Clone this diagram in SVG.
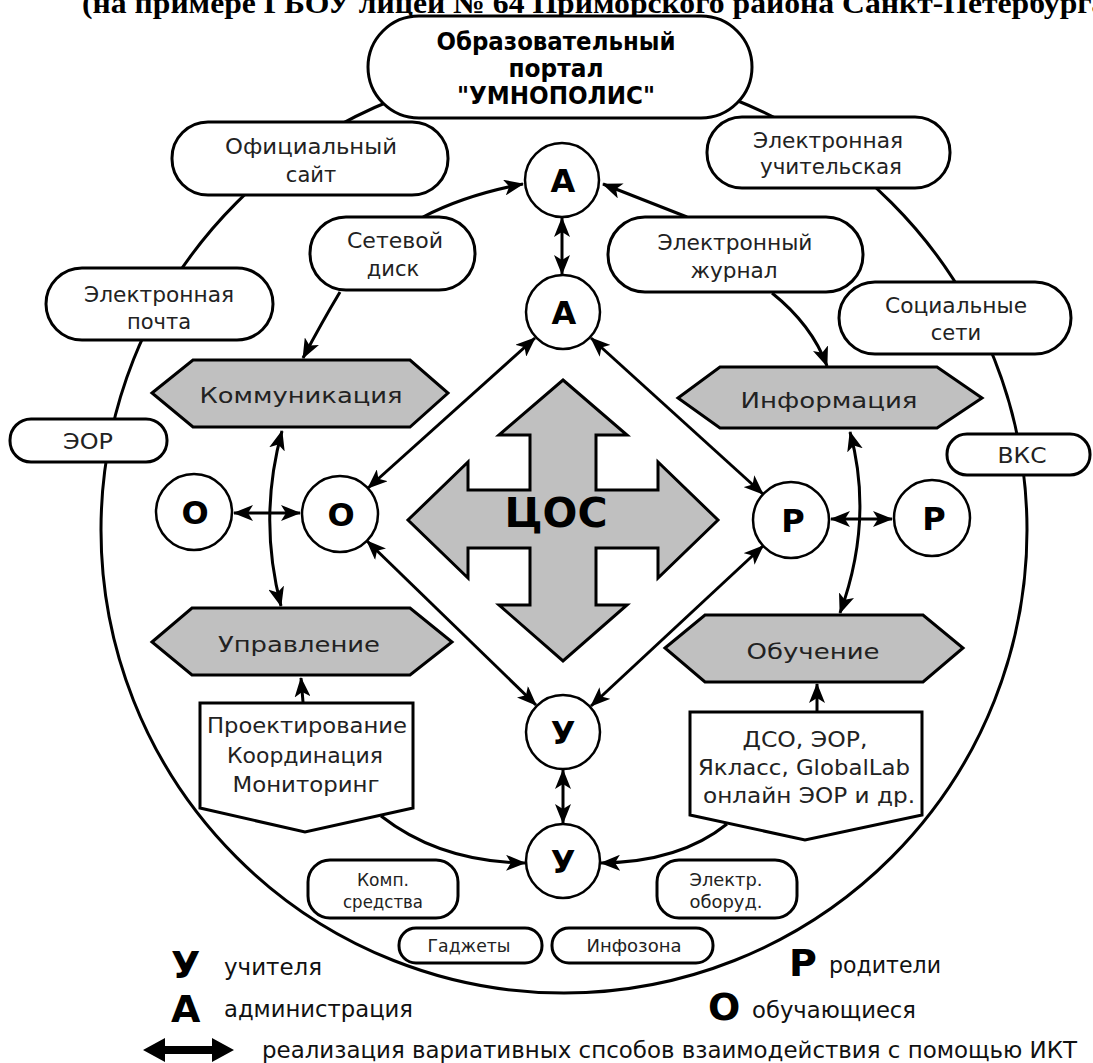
<svg xmlns="http://www.w3.org/2000/svg" width="1093" height="1063" viewBox="0 0 1093 1063">
<defs>
<style>
.box{fill:#fff;stroke:#000;stroke-width:3}
.hex{fill:#c0c0c0;stroke:#000;stroke-width:3}
.circ{fill:#fff;stroke:#000;stroke-width:2.5}
.lbl{font-family:"DejaVu Sans","Liberation Sans",sans-serif;font-size:21px;fill:#222;text-anchor:middle}
.hl{font-size:22px}
.let{font-family:"DejaVu Sans","Liberation Sans",sans-serif;font-weight:bold;font-size:32px;text-anchor:middle;fill:#000}
.sm{font-family:"DejaVu Sans Condensed","DejaVu Sans",sans-serif;font-size:17px;text-anchor:middle;fill:#222}
.con{fill:none;stroke:#000;stroke-width:3}
.leg{font-family:"Liberation Sans Narrow","DejaVu Sans Condensed","Liberation Sans",sans-serif;font-size:23px;fill:#111}
.legL{font-family:"DejaVu Sans","Liberation Sans",sans-serif;font-weight:bold;font-size:38px;fill:#000}
.portal{font-family:"DejaVu Sans","Liberation Sans",sans-serif;font-weight:bold;font-size:24px;text-anchor:middle;fill:#000}
</style>
<marker id="ah" viewBox="0 0 20 16" refX="19" refY="8" markerWidth="20" markerHeight="16" markerUnits="userSpaceOnUse" orient="auto-start-reverse">
<path d="M0,0 L20,8 L0,16 L5,8 z" fill="#000"/>
</marker>
</defs>
<rect width="1093" height="1063" fill="#fff"/>
<text x="82" y="13" font-family="Liberation Serif,serif" font-weight="bold" font-size="30" textLength="1036" lengthAdjust="spacingAndGlyphs">(на примере ГБОУ лицей № 64 Приморского района Санкт-Петербурга)</text>

<g id="outer-circle"><circle cx="564" cy="530" r="463" fill="none" stroke="#000" stroke-width="3"/></g>

<g id="connectors">
<path class="con" d="M423,217 Q465,195 523,184" marker-end="url(#ah)"/>
<path class="con" d="M687,217 L603,184" marker-end="url(#ah)"/>
<path class="con" d="M562,218 L562,274" marker-start="url(#ah)" marker-end="url(#ah)"/>
<path class="con" d="M340,292 Q322,322 303,358" marker-end="url(#ah)"/>
<path class="con" d="M772,293 Q812,325 827,366" marker-end="url(#ah)"/>
<path class="con" d="M282,431 Q258,518 281,606" marker-start="url(#ah)" marker-end="url(#ah)"/>
<path class="con" d="M850,432 Q874,520 840,613" marker-start="url(#ah)" marker-end="url(#ah)"/>
<path class="con" d="M234,513 L300,513" marker-start="url(#ah)" marker-end="url(#ah)"/>
<path class="con" d="M831,519 L892,519" marker-start="url(#ah)" marker-end="url(#ah)"/>
<path class="con" d="M535,338 L368,488" marker-start="url(#ah)" marker-end="url(#ah)"/>
<path class="con" d="M591,338 L763,494" marker-start="url(#ah)" marker-end="url(#ah)"/>
<path class="con" d="M367,541 L536,705" marker-start="url(#ah)" marker-end="url(#ah)"/>
<path class="con" d="M763,546 L591,706" marker-start="url(#ah)" marker-end="url(#ah)"/>
<path class="con" d="M563,770 L563,823" marker-start="url(#ah)" marker-end="url(#ah)"/>
<path class="con" d="M303,702 L301,678" marker-end="url(#ah)"/>
<path class="con" d="M817,711 L817,684" marker-end="url(#ah)"/>
<path class="con" d="M381,816 Q440,862 525,863" marker-end="url(#ah)"/>
<path class="con" d="M727,824 Q680,862 601,863" marker-end="url(#ah)"/>
</g>

<g id="portal">
<rect class="box" x="368" y="16" width="384" height="102" rx="51"/>
<text class="portal" x="556" y="50" textLength="239" lengthAdjust="spacingAndGlyphs">Образовательный</text>
<text class="portal" x="556" y="77" textLength="95" lengthAdjust="spacingAndGlyphs">портал</text>
<text class="portal" x="556" y="104" textLength="198" lengthAdjust="spacingAndGlyphs">"УМНОПОЛИС"</text>
</g>

<g id="oficialny-sait">
<rect class="box" x="172" y="122" width="276" height="73" rx="36"/>
<text class="lbl" x="311" y="154" textLength="172" lengthAdjust="spacingAndGlyphs">Официальный</text>
<text class="lbl" x="311" y="182">сайт</text>
</g>
<g id="el-uchitelskaya">
<rect class="box" x="707" y="117" width="243" height="71" rx="35"/>
<text class="lbl" x="828" y="148" textLength="150" lengthAdjust="spacingAndGlyphs">Электронная</text>
<text class="lbl" x="831" y="174" textLength="142" lengthAdjust="spacingAndGlyphs">учительская</text>
</g>
<g id="setevoy-disk">
<rect class="box" x="310" y="217" width="165" height="73" rx="36"/>
<text class="lbl" x="395" y="248" textLength="96" lengthAdjust="spacingAndGlyphs">Сетевой</text>
<text class="lbl" x="393" y="276">диск</text>
</g>
<g id="el-zhurnal">
<rect class="box" x="608" y="217" width="255" height="75" rx="37"/>
<text class="lbl" x="735" y="250" textLength="155" lengthAdjust="spacingAndGlyphs">Электронный</text>
<text class="lbl" x="734" y="278" textLength="87" lengthAdjust="spacingAndGlyphs">журнал</text>
</g>
<g id="el-pochta">
<rect class="box" x="46" y="268" width="227" height="72" rx="36"/>
<text class="lbl" x="159" y="302" textLength="150" lengthAdjust="spacingAndGlyphs">Электронная</text>
<text class="lbl" x="159" y="329">почта</text>
</g>
<g id="soc-seti">
<rect class="box" x="839" y="282" width="232" height="72" rx="36"/>
<text class="lbl" x="956" y="313" textLength="142" lengthAdjust="spacingAndGlyphs">Социальные</text>
<text class="lbl" x="956" y="340">сети</text>
</g>
<g id="eor">
<rect class="box" x="10" y="419" width="157" height="43" rx="21"/>
<text class="lbl" x="88" y="449" textLength="50" lengthAdjust="spacingAndGlyphs">ЭОР</text>
</g>
<g id="vks">
<rect class="box" x="947" y="434" width="143" height="41" rx="20"/>
<text class="lbl" x="1022" y="463" textLength="49" lengthAdjust="spacingAndGlyphs">ВКС</text>
</g>

<g id="kommunikatsiya">
<polygon class="hex" points="152,393 193,360 410,360 448,393 410,427 193,427"/>
<text class="lbl hl" x="301" y="403" textLength="203" lengthAdjust="spacingAndGlyphs">Коммуникация</text>
</g>
<g id="informatsiya">
<polygon class="hex" points="678,398 720,367 937,367 982,398 937,428 720,428"/>
<text class="lbl hl" x="829" y="408" textLength="177" lengthAdjust="spacingAndGlyphs">Информация</text>
</g>
<g id="upravlenie">
<polygon class="hex" points="152,642 192,608 410,608 452,642 410,675 192,675"/>
<text class="lbl hl" x="299" y="652" textLength="162" lengthAdjust="spacingAndGlyphs">Управление</text>
</g>
<g id="obuchenie">
<polygon class="hex" points="665,648 705,615 923,615 963,648 923,682 705,682"/>
<text class="lbl hl" x="813" y="659" textLength="133" lengthAdjust="spacingAndGlyphs">Обучение</text>
</g>

<g id="tsos">
<polygon points="563,380 627,435 596,435 596,490 658,490 658,462 718,520 658,578 658,548 596,548 596,605 627,605 563,661 499,605 530,605 530,548 468,548 468,578 408,520 468,462 468,490 530,490 530,435 499,435" fill="#c0c0c0" stroke="#000" stroke-width="3" stroke-linejoin="miter"/>
<text x="556" y="527" font-family="DejaVu Sans,Liberation Sans,sans-serif" font-weight="bold" font-size="41" text-anchor="middle" fill="#000">ЦОС</text>
</g>

<g id="A-top"><circle class="circ" cx="562" cy="180" r="37"/><text class="let" x="563" y="192">А</text></g>
<g id="A-inner"><circle class="circ" cx="563" cy="312" r="37"/><text class="let" x="564" y="324">А</text></g>
<g id="O-outer"><circle class="circ" cx="194" cy="512" r="38"/><text class="let" x="195" y="524">О</text></g>
<g id="O-inner"><circle class="circ" cx="340" cy="514" r="38"/><text class="let" x="341" y="526">О</text></g>
<g id="P-inner"><circle class="circ" cx="791" cy="520" r="38"/><text class="let" x="793" y="532">Р</text></g>
<g id="P-outer"><circle class="circ" cx="932" cy="518" r="38"/><text class="let" x="934" y="530">Р</text></g>
<g id="U-inner"><circle class="circ" cx="563" cy="732" r="37"/><text class="let" x="563" y="744">У</text></g>
<g id="U-outer"><circle class="circ" cx="563" cy="861" r="37"/><text class="let" x="563" y="873">У</text></g>

<g id="proektirovanie">
<polygon class="box" points="200,703 413,703 413,808 305,832 200,808"/>
<text class="lbl" x="307" y="733" textLength="200" lengthAdjust="spacingAndGlyphs">Проектирование</text>
<text class="lbl" x="305" y="763" textLength="156" lengthAdjust="spacingAndGlyphs">Координация</text>
<text class="lbl" x="306" y="792" textLength="147" lengthAdjust="spacingAndGlyphs">Мониторинг</text>
</g>
<g id="dso">
<polygon class="box" points="690,712 922,712 922,815 805,840 690,815"/>
<text class="lbl" x="805" y="747" textLength="125" lengthAdjust="spacingAndGlyphs">ДСО, ЭОР,</text>
<text class="lbl" x="804" y="775" textLength="212" lengthAdjust="spacingAndGlyphs">Якласс, GlobalLab</text>
<text class="lbl" x="809" y="803" textLength="212" lengthAdjust="spacingAndGlyphs">онлайн ЭОР и др.</text>
</g>

<g id="komp-sredstva">
<rect class="box" x="308" y="860" width="150" height="58" rx="22"/>
<text class="sm" x="383" y="886" textLength="52" lengthAdjust="spacingAndGlyphs">Комп.</text>
<text class="sm" x="383" y="908" textLength="80" lengthAdjust="spacingAndGlyphs">средства</text>
</g>
<g id="elektr-oborud">
<rect class="box" x="657" y="860" width="140" height="58" rx="22"/>
<text class="sm" x="726" y="886" textLength="73" lengthAdjust="spacingAndGlyphs">Электр.</text>
<text class="sm" x="726" y="908" textLength="73" lengthAdjust="spacingAndGlyphs">оборуд.</text>
</g>
<g id="gadzhety">
<rect class="box" x="399" y="928" width="143" height="35" rx="17"/>
<text class="sm" x="469" y="952" textLength="83" lengthAdjust="spacingAndGlyphs">Гаджеты</text>
</g>
<g id="infozona">
<rect class="box" x="552" y="928" width="161" height="35" rx="17"/>
<text class="sm" x="634" y="952" textLength="95" lengthAdjust="spacingAndGlyphs">Инфозона</text>
</g>

<g id="legend">
<text class="legL" x="171" y="978">У</text>
<text class="leg" x="224" y="975" textLength="98" lengthAdjust="spacingAndGlyphs">учителя</text>
<text class="legL" x="171" y="1022">А</text>
<text class="leg" x="224" y="1017" textLength="189" lengthAdjust="spacingAndGlyphs">администрация</text>
<text class="legL" x="789" y="976">Р</text>
<text class="leg" x="829" y="973" textLength="112" lengthAdjust="spacingAndGlyphs">родители</text>
<text class="legL" x="708" y="1020">О</text>
<text class="leg" x="752" y="1018" textLength="164" lengthAdjust="spacingAndGlyphs">обучающиеся</text>
<path d="M143,1050 L165,1038 L165,1046 L212,1046 L212,1038 L234,1050 L212,1062 L212,1054 L165,1054 L165,1062 z" fill="#000"/>
<text class="leg" x="262" y="1058" textLength="815" lengthAdjust="spacingAndGlyphs">реализация вариативных спсобов взаимодействия с помощью ИКТ</text>
</g>
</svg>
